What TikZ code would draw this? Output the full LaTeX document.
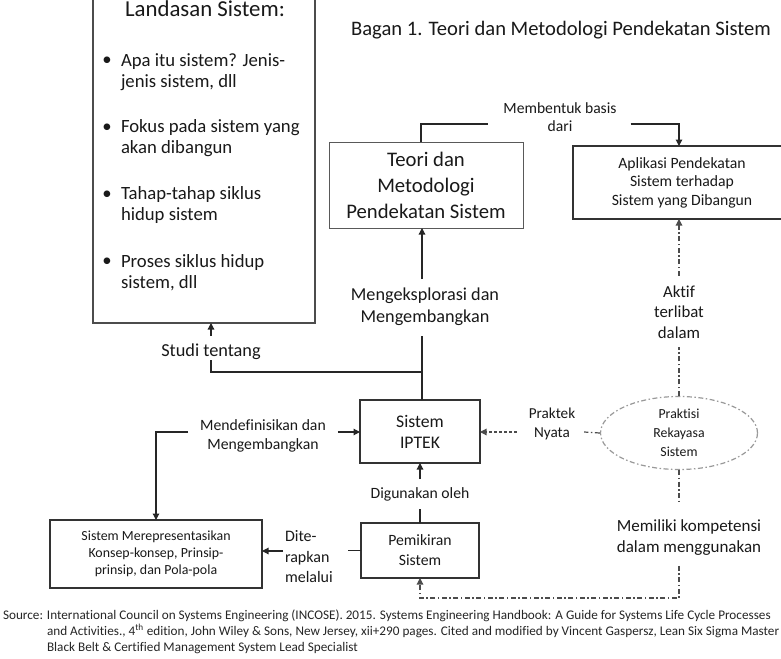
\documentclass[tikz,border=0pt]{standalone}
\usepackage{fontspec}
\setmainfont{Carlito}[Ligatures=NoCommon]
\usetikzlibrary{arrows.meta,shapes.geometric,calc}
\newcommand\myfs[2]{\fontsize{#1pt}{#2pt}\selectfont}
\begin{document}
\begin{tikzpicture}[x=1pt,y=-1pt,
  box/.style={draw=black!80,line width=1.2pt,inner sep=0pt,outer sep=0pt,align=center,text=black!90},
  lbl/.style={align=center,inner sep=0pt,outer sep=0pt,text=black!90},
  conn/.style={draw=black!85,line width=1.2pt},
  tip/.style={-{Triangle[length=6.5pt,width=6.5pt]}},
  dd/.style={draw=black!70,line width=1.2pt,dash pattern=on 5pt off 2.5pt on 1.5pt off 2.5pt},
  dsh/.style={draw=black!70,line width=1.2pt,dash pattern=on 3pt off 2pt}]
\useasboundingbox[fill=white] (0,0) rectangle (781,658);

% title
\node[lbl,font=\myfs{20.6}{24}] (title) at (561,30) {Bagan 1. Teori dan Metodologi Pendekatan Sistem};

% Landasan box
\node[box,draw=black!70,minimum width=222pt,minimum height=330pt] (landasan) at (204,158) {};
\node[lbl,font=\myfs{22.8}{28},anchor=base] (ltitle) at (205,17) {Landasan Sistem:};
\foreach \i/\y/\t in {1/72/{Apa itu sistem? Jenis-\\jenis sistem, dll},
                      2/138.5/{Fokus pada sistem yang\\akan dibangun},
                      3/205.5/{Tahap-tahap siklus\\hidup sistem},
                      4/273/{Proses siklus hidup\\sistem, dll}}{
  \node[lbl,align=left,anchor=west,font=\myfs{18.7}{21}] (item\i) at (121,\y) {\t};
  \node[lbl,font=\myfs{18.7}{21}] (bul\i) at (107,\y-10.5) {\textbullet};
}

% boxes
\node[box,draw=black!65,line width=1pt,minimum width=194pt,minimum height=86pt,font=\myfs{20.7}{26}] (teori) at (426,185) {Teori dan\\Metodologi\\Pendekatan Sistem};
\node[box,line width=1.5pt,minimum width=218pt,minimum height=73pt,font=\myfs{15.7}{18.5}] (aplikasi) at (682,182.5) {Aplikasi Pendekatan\\Sistem terhadap\\Sistem yang Dibangun};
\node[box,minimum width=120pt,minimum height=63pt,font=\myfs{17.7}{21}] (iptek) at (420,431.5) {Sistem\\IPTEK};
\node[box,minimum width=212pt,minimum height=68pt,font=\myfs{13.9}{17}] (merep) at (156,554) {Sistem Merepresentasikan\\Konsep-konsep, Prinsip-\\prinsip, dan Pola-pola};
\node[box,minimum width=118pt,minimum height=55pt,font=\myfs{15.7}{20}] (pemikiran) at (420,550.5) {Pemikiran\\Sistem};
\node[ellipse,dd,draw=black!40,minimum width=157pt,minimum height=73pt,inner sep=0pt,align=center,text=black!90,font=\myfs{13.8}{19}] (praktisi) at (679,433) {Praktisi\\Rekayasa\\Sistem};

% labels
\node[lbl,font=\myfs{15.6}{18}] (membentuk) at (560,117) {Membentuk basis\\dari};
\node[lbl,font=\myfs{18.2}{22}] (explor) at (425,307) {Mengeksplorasi dan\\Mengembangkan};
\node[lbl,font=\myfs{18.3}{22}] (studi) at (211,352) {Studi tentang};
\node[lbl,font=\myfs{15.7}{19}] (mendef) at (263,436) {Mendefinisikan dan\\Mengembangkan};
\node[lbl,font=\myfs{15.7}{19}] (digunakan) at (420,494) {Digunakan oleh};
\node[lbl,align=left,anchor=west,font=\myfs{16}{20.5}] (dite) at (285,557) {Dite-\\rapkan\\melalui};
\node[lbl,font=\myfs{15.2}{19.5}] (praktek) at (552,424) {Praktek\\Nyata};
\node[lbl,font=\myfs{16.8}{20.5}] (aktif) at (679,312) {Aktif\\terlibat\\dalam};
\node[lbl,font=\myfs{17}{21}] (memiliki) at (689,538) {Memiliki kompetensi\\dalam menggunakan};

% connectors
\draw[conn] ([xshift=-5pt]teori.north) |- ($(membentuk.west)+(-15,7)$);
\draw[conn,tip] ($(membentuk.east)+(14,7)$) -| ([xshift=-3pt]aplikasi.north);

\coordinate (vx) at (422,372);
\draw[conn] (iptek.north -| vx) -- ($(explor.south -| vx)+(0,10)$);
\draw[conn,tip] ($(explor.north -| vx)+(0,-9)$) -- (teori.south -| vx);
\draw[conn] (vx) -| (studi.south);
\draw[conn,tip] ($(studi.north)+(0,-8)$) -- (studi.north |- landasan.south);

\coordinate (mr) at ($(mendef.east)+(12,-4)$);
\coordinate (ml) at ($(mendef.west)+(-12,-4)$);
\draw[conn,tip] (mr) -- (mr -| iptek.west);
\draw[conn,tip] (ml) -| (merep.north);

\draw[conn] (pemikiran.north) -- ($(digunakan.south)+(0,8)$);
\draw[conn,tip] ($(digunakan.north)+(0,-8)$) -- (iptek.south);

\coordinate (dl) at ($(dite.west)+(-2,-6)$);
\draw[conn] (pemikiran.west) -- ++(-13,0);
\draw[conn,tip] (dl) -- (dl -| merep.east);

\coordinate (pl) at ($(praktek.west)+(-12,8)$);
\coordinate (pr) at ($(praktek.east)+(9,8)$);
\draw[dsh,tip] (pl) -- (pl -| iptek.east);
\draw[dd] (praktisi.west) -- (pr);

\draw[dd] (praktisi.north) -- ($(aktif.south)+(0,9)$);
\draw[dd,tip] ($(aktif.north)+(0,-10)$) -- (aktif.north |- aplikasi.south);

\draw[dd] (praktisi.south) -- ($(memiliki.north -| praktisi.south)+(0,-16)$);
\draw[dd,tip] ($(memiliki.south -| praktisi.south)+(0,10)$) |- ($(pemikiran.south)+(0,20)$) -- (pemikiran.south);

% source
\node[lbl,anchor=north west,align=left,text=black!85,font=\myfs{13.2}{16}] (source) at (3,608)
 {\begin{tabular}{@{}p{44pt}@{}l@{}}
 Source: & International Council on Systems Engineering (INCOSE). 2015. Systems Engineering Handbook: A Guide for Systems Life Cycle Processes\\
 & and Activities., 4\textsuperscript{th} edition, John Wiley \& Sons, New Jersey, xii+290 pages. Cited and modified by Vincent Gaspersz, Lean Six Sigma Master\\
 & Black Belt \& Certified Management System Lead Specialist
 \end{tabular}};
\end{tikzpicture}
\end{document}
